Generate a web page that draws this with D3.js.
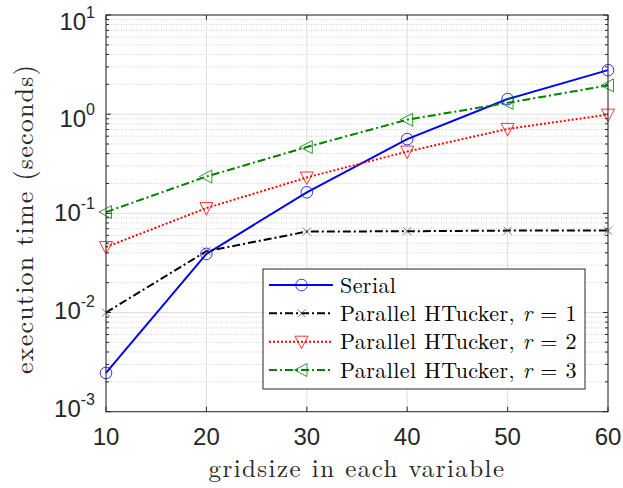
<!DOCTYPE html>
<html><head><meta charset="utf-8">
<script src="https://cdn.jsdelivr.net/npm/d3@7"></script>
<style>body{margin:0;background:#fff}svg{display:block}</style>
</head><body>
<svg id="c" width="623" height="488"></svg>
<script>
const gridsize = [10, 20, 30, 40, 50, 60];
const serial = [0.00246, 0.039, 0.163, 0.56, 1.42, 2.78];
const htR1 = [0.0100, 0.0415, 0.0655, 0.066, 0.067, 0.067];
const htR2 = [0.0457, 0.113, 0.23, 0.42, 0.71, 0.99];
const htR3 = [0.103, 0.235, 0.466, 0.88, 1.30, 1.95];
const xTicks = [10, 20, 30, 40, 50, 60];
const yTickExps = [-3, -2, -1, 0, 1];
const seriesNames = ["Serial", "Parallel HTucker, ", "Parallel HTucker, ", "Parallel HTucker, "];
const rValues = [null, 1, 2, 3];
const xLabel = "gridsize in each variable";
const yLabel = "execution time (seconds)";

const svg = d3.select("#c");
const L = 106, R = 608, T = 15, B = 411.7;
const x = d3.scaleLinear().domain([10, 60]).range([L, R]);
const y = d3.scaleLog().domain([1e-3, 10]).range([B, T]);

function fitSpacing(t, target) {
  const len = t.node().getComputedTextLength();
  const n = t.text().length;
  const ls = (target - len) / n;
  t.attr("letter-spacing", ls.toFixed(3));
  return ls;
}

// grid
const g = svg.append("g");
const minor = [];
for (let e = -3; e < 1; e++) for (let k = 2; k <= 9; k++) minor.push(k * Math.pow(10, e));
g.selectAll(".ymin").data(minor).join("line")
  .attr("x1", L).attr("x2", R).attr("y1", d => y(d)).attr("y2", d => y(d))
  .attr("stroke", "#d0d0d0").attr("stroke-width", 1).attr("stroke-dasharray", "1,1.5");
g.selectAll(".ymaj").data(yTickExps).join("line")
  .attr("x1", L).attr("x2", R).attr("y1", d => y(Math.pow(10, d))).attr("y2", d => y(Math.pow(10, d)))
  .attr("stroke", "#dedede").attr("stroke-width", 1);
g.selectAll(".xmaj").data(xTicks).join("line")
  .attr("y1", T).attr("y2", B).attr("x1", d => x(d)).attr("x2", d => x(d))
  .attr("stroke", "#dedede").attr("stroke-width", 1);

// ticks (inward, all four sides)
const tk = svg.append("g").attr("stroke", "#262626").attr("stroke-width", 1);
xTicks.forEach(v => {
  tk.append("line").attr("x1", x(v)).attr("x2", x(v)).attr("y1", B).attr("y2", B - 5);
  tk.append("line").attr("x1", x(v)).attr("x2", x(v)).attr("y1", T).attr("y2", T + 5);
});
yTickExps.forEach(e => {
  const yy = y(Math.pow(10, e));
  tk.append("line").attr("x1", L).attr("x2", L + 5).attr("y1", yy).attr("y2", yy);
  tk.append("line").attr("x1", R).attr("x2", R - 5).attr("y1", yy).attr("y2", yy);
});
minor.forEach(v => {
  const yy = y(v);
  tk.append("line").attr("x1", L).attr("x2", L + 3).attr("y1", yy).attr("y2", yy);
  tk.append("line").attr("x1", R).attr("x2", R - 3).attr("y1", yy).attr("y2", yy);
});

// series
const series = [
  {vals: serial, color: "#0000ff", dash: null, marker: "circle"},
  {vals: htR1, color: "#000000", dash: "8,3,2,3", marker: "x"},
  {vals: htR2, color: "#ff0000", dash: "2,2", marker: "tdown"},
  {vals: htR3, color: "#008000", dash: "8,3,2,3", marker: "tleft"}
];
const line = d3.line().x((d, i) => x(gridsize[i])).y(d => y(d));
function drawMarker(sel, type, cx, cy, color) {
  if (type === "circle") {
    sel.append("circle").attr("cx", cx).attr("cy", cy).attr("r", 5.8)
      .attr("fill", "none").attr("stroke", color).attr("stroke-width", 0.8);
    return;
  }
  const m = sel.append("path").attr("fill", "none").attr("stroke", color).attr("stroke-width", 0.8)
    .attr("transform", `translate(${cx},${cy})`);
  if (type === "x") m.attr("d", "M-4,-4L4,4M-4,4L4,-4").attr("stroke", "#555");
  if (type === "tdown") m.attr("d", "M-6.5,-5.5L6.5,-5.5L0,7Z");
  if (type === "tleft") m.attr("d", "M-7,0L5.5,-6.5L5.5,6.5Z");
}
const plot = svg.append("g");
series.forEach(s => {
  plot.append("path").attr("d", line(s.vals)).attr("fill", "none")
    .attr("stroke", s.color).attr("stroke-width", 2)
    .attr("stroke-dasharray", s.dash);
  s.vals.forEach((v, i) => drawMarker(plot, s.marker, x(gridsize[i]), y(v), s.color));
});

// axes box
svg.append("rect").attr("x", L).attr("y", T).attr("width", R - L).attr("height", B - T)
  .attr("fill", "none").attr("stroke", "#262626").attr("stroke-width", 1);

// tick labels
const sans = "'Liberation Sans', Arial, sans-serif";
xTicks.forEach(v => {
  svg.append("text").attr("x", x(v)).attr("y", 445).attr("text-anchor", "middle")
    .attr("font-family", sans).attr("font-size", 24).attr("fill", "#262626").text(v);
});
const yLabelDy = {"1": 15, "0": 13, "-1": 8, "-2": 6, "-3": 5};
yTickExps.forEach(e => {
  const t = svg.append("text").attr("x", 95).attr("y", y(Math.pow(10, e)) + yLabelDy[String(e)]).attr("text-anchor", "end")
    .attr("font-family", sans).attr("font-size", 24).attr("fill", "#262626");
  t.append("tspan").text("10");
  t.append("tspan").attr("dy", -12).attr("font-size", 16).text(String(e));
});

// axis labels
const serif = "'Latin Modern Roman','CMU Serif','DejaVu Serif', serif";
const xl = svg.append("text").attr("x", (L + R) / 2).attr("y", 477).attr("text-anchor", "middle")
  .attr("font-family", serif).attr("font-size", 25).attr("fill", "#262626").text(xLabel);
fitSpacing(xl, 297);
const yl = svg.append("text").attr("transform", `translate(33,219) rotate(-90)`).attr("text-anchor", "middle")
  .attr("font-family", serif).attr("font-size", 26).attr("fill", "#262626").text(yLabel);
fitSpacing(yl, 310);

// legend
const lg = svg.append("g");
const lx = 263, ly = 269, lw = 322, lh = 120;
lg.append("rect").attr("x", lx).attr("y", ly).attr("width", lw).attr("height", lh)
  .attr("fill", "#fff").attr("stroke", "#262626").attr("stroke-width", 1);
const rowY = [285, 313.3, 341.7, 370];
const legTexts = [];
series.forEach((s, i) => {
  lg.append("line").attr("x1", lx + 6).attr("x2", lx + 70).attr("y1", rowY[i]).attr("y2", rowY[i])
    .attr("stroke", s.color).attr("stroke-width", 2).attr("stroke-dasharray", s.dash);
  drawMarker(lg, s.marker, lx + 38.5, rowY[i], s.color);
  const t = lg.append("text").attr("x", lx + 77).attr("y", rowY[i] + 7.5)
    .attr("font-family", serif).attr("font-size", 22).attr("fill", "#000");
  t.append("tspan").text(seriesNames[i]);
  if (rValues[i] !== null) {
    t.append("tspan").attr("font-style", "italic").text("r");
    t.append("tspan").text(" = " + rValues[i]);
  }
  legTexts.push(t);
});
const legLs = fitSpacing(legTexts[1], 237);
legTexts.forEach(t => t.attr("letter-spacing", legLs.toFixed(3)));
</script>
</body></html>
